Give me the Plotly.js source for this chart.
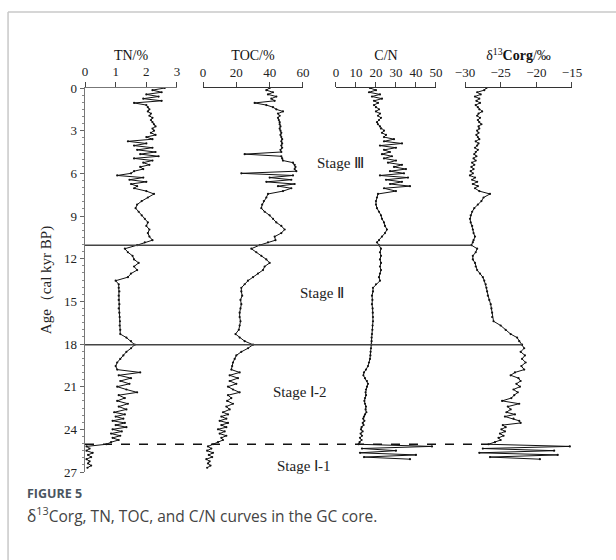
<!DOCTYPE html>
<html><head><meta charset="utf-8">
<script src="https://cdn.plot.ly/plotly-3.0.1.min.js"></script>
<style>html,body{margin:0;padding:0;background:#fff}#chart{width:616px;height:560px}</style>
</head><body><div id="chart"></div>
<script>
const age = [0,0.15,0.3,0.45,0.6,0.75,0.9,1.05,1.2,1.35,1.5,1.65,1.8,1.95,2.1,2.25,2.4,2.55,2.7,2.85,3.0,3.15,3.3,3.45,3.6,3.75,3.9,4.05,4.2,4.35,4.5,4.65,4.8,4.95,5.1,5.25,5.4,5.55,5.7,5.85,6.0,6.15,6.3,6.45,6.6,6.75,6.9,7.05,
 7.25,7.45,7.7,7.95,8.2,8.45,8.7,8.95,9.2,9.45,9.7,9.95,10.2,10.45,10.7,10.85,11.05,
 11.3,11.55,11.8,12.05,12.3,12.55,12.8,13.05,13.3,13.55,13.8,14.05,14.3,14.6,14.9,15.2,15.5,15.8,16.1,16.4,16.7,17.0,17.3,17.55,17.8,18.05,
 18.3,18.55,18.8,19.05,19.3,19.55,19.8,20.0,20.2,20.4,20.6,20.8,21.0,21.2,21.4,21.6,21.8,22.0,22.2,22.4,22.6,22.8,22.95,23.1,23.25,23.4,23.55,23.7,23.85,24.0,24.15,24.3,24.45,24.6,24.75,24.9,25.05,
 25.2,25.35,25.5,25.65,25.8,25.95,26.1,26.25,26.4,26.55,26.7];
const tn = [2.6,2.2,2.5,2.0,2.4,1.9,2.5,1.6,2.0,2.05,2.1,2.05,2.15,2.1,2.2,2.15,2.2,2.25,2.3,2.2,2.25,2.15,2.3,2.0,2.2,1.4,2.0,1.6,2.2,1.7,2.3,1.8,2.4,1.6,2.2,1.9,2.1,1.8,1.9,1.6,1.5,1.05,1.9,1.45,2.0,1.5,1.7,1.6,
 2.0,2.25,2.05,1.85,1.7,1.65,1.75,1.85,1.95,2.05,2.0,2.1,2.05,2.1,2.2,1.95,1.7,
 1.3,1.4,1.55,1.6,1.75,1.6,1.7,1.5,1.4,1.0,1.1,1.1,1.12,1.1,1.1,1.12,1.1,1.12,1.13,1.14,1.13,1.15,1.15,1.35,1.5,1.62,
 1.5,1.35,1.25,1.15,1.05,1.0,1.05,1.8,1.1,1.5,1.15,1.45,1.05,1.35,1.7,1.1,1.3,1.05,1.4,1.1,1.35,0.95,1.3,1.0,1.25,0.9,1.3,1.0,1.35,0.9,1.2,0.85,1.15,0.9,1.1,0.85,0.7,
 0.05,0.15,0.05,0.25,0.1,0.2,0.05,0.15,0.1,0.2,0.08];
const toc = [40,38,42,39,44,41,43,31,38,42,44,48,45,46,45,45.5,46,46,46.5,46,46.5,47,46.5,47,47.5,47,47.5,47,47.5,46.5,47,25,47,47.5,48,54,55,55.5,55,56,23,54,40,53,38,55,45,53,
 48,39,38,36.5,35.5,35,37,40,42,44,47,49,47,43,43.5,39,34,
 29,32,35,38,40,37,36,33,30,27,25,23,23,23.5,22.5,23,22.5,22,22,22.5,22,21.5,19.5,22,25,30,
 27,23,20,19,18,17.5,17,22,16,21,16,20,15,18,22,15,17,14.5,18,14,16,12,15,11,14,10,15,11,14,9,13,10,14,11,12,9,6,
 3,5,2.5,6,3.5,5.5,2,4,3,4.5,2.5];
const cn = [17,20,16.5,22,18,23,19,21,19,20,21.5,20,22,21,22.5,21.5,20.5,21,22,22.5,24,23,25,24,29,24,33,22,30,24,27,23,28,24,30,26,33,29,35,27,34,22,36,25,33,27,37,24,
 30,21,20.5,20,20,20.5,21.5,22.5,23,24,24.5,25.5,24.5,23,21.5,20.5,21.5,
 22.5,22,22.5,22,22.5,22,22.5,22,21.5,22,20,18.5,18.5,18,18.2,18,18.3,18.4,18.5,18.5,18.3,18.2,18,17.8,17.8,17.7,
 17.5,17.3,17.2,17,16.5,16,15,14,13.7,14.5,15.5,16,15.5,15,14.8,15,14.5,14.2,14.5,15,14.8,15.2,14.5,14,13.6,14.2,13.4,13.8,12.8,12.5,13.3,12.3,13,12,12.8,11.8,11.3,
 48,13,30,12,40,14,37,null,null,null,null];
const d13c = [-27.0,-27.3,-28.3,-27.8,-28.6,-28.0,-28.4,-27.9,-28.5,-28.2,-28.0,-27.6,-28.1,-28.3,-27.9,-28.2,-28.0,-27.7,-28.1,-28.0,-28.3,-28.1,-28.4,-28.2,-28.0,-28.5,-28.1,-28.3,-28.6,-28.2,-28.5,-28.7,-28.4,-28.8,-28.5,-29.0,-28.7,-29.1,-28.8,-29.2,-28.9,-29.3,-28.6,-29.0,-28.3,-28.9,-28.2,-28.6,
 -28.0,-26.5,-27.4,-27.7,-28.2,-28.7,-29.0,-29.2,-29.3,-29.2,-29.0,-28.9,-28.8,-28.6,-28.8,-28.9,-29.1,
 -28.3,-28.5,-28.9,-28.9,-28.6,-28.5,-28.3,-27.9,-27.5,-27.3,-27.1,-27.0,-26.9,-26.8,-26.6,-26.4,-26.3,-26.2,-26.2,-26.0,-25.0,-24.3,-23.6,-22.7,-22.4,-22.0,
 -21.7,-22.2,-21.6,-22.0,-21.5,-22.1,-21.7,-23.0,-23.6,-22.5,-22.2,-22.8,-22.3,-23.2,-22.6,-23.1,-23.5,-24.8,-22.4,-24.0,-23.6,-24.2,-23.0,-24.4,-23.2,-22.4,-22.2,-24.7,-24.3,-24.9,-24.4,-25.1,-24.6,-25.3,-25.0,-25.8,-26.7,
 -15.3,-27.5,-17.5,-28.0,-17.0,-26.5,-19.5,null,null,null,null];

const boundaries = [11.05, 18.05, 25.05];
const boundaryDash = ['solid','solid','dash'];
const stageLabels = ['Stage Ⅲ','Stage Ⅱ','Stage Ⅰ-2','Stage Ⅰ-1'];
const titles = ['TN/%','TOC/%','C/N','δ<sup>13</sup><b>Corg</b>/‰'];
const ranges = [[0,3],[0,60],[0,50],[-30,-15]];
const dticks = [1,20,10,5];
const domains = [[0,0.1889],[0.2423,0.4476],[0.5154,0.7207],[0.7803,1]];

const serif = 'Liberation Serif, Times New Roman, serif';
const series = [tn, toc, cn, d13c];
const traces = series.map((s,i)=>({
  x: s, y: age, xaxis: i===0?'x':'x'+(i+1), yaxis:'y',
  type:'scatter', mode:'lines+markers', connectgaps:false,
  line:{color:'#111', width:1}, marker:{color:'#111', size:2.2},
  hoverinfo:'skip', showlegend:false, cliponaxis:false
}));

const layout = {
  width:616, height:560, margin:{l:85, r:44, t:88, b:88},
  paper_bgcolor:'#fff', plot_bgcolor:'rgba(0,0,0,0)',
  font:{family:serif, size:13, color:'#222'},
  showlegend:false,
  yaxis:{range:[27,0], dtick:3, tick0:0, ticks:'outside', ticklen:4, tickcolor:'#666',
    showline:true, linecolor:'#777', linewidth:1.5, showgrid:false, zeroline:false,
    anchor:'x', minor:{dtick:0.5, ticks:'outside', ticklen:2, tickcolor:'#888'},
    tickfont:{family:serif, size:13, color:'#222'},
    title:{text:'Age（cal kyr BP)', font:{family:serif, size:15, color:'#222'}, standoff:8}},
  shapes:[], annotations:[]
};
for (let i=0;i<4;i++){
  const key = i===0?'xaxis':'xaxis'+(i+1);
  layout[key] = {domain:domains[i], range:ranges[i], dtick:dticks[i], tick0:ranges[i][0],
    side:'top', anchor:'y', showline:true, linecolor:i===0?'#777':'#333', linewidth:i===0?1.5:1,
    ticks:'outside', ticklen:5, tickcolor:'#444', showgrid:false, zeroline:false,
    tickfont:{family:serif, size:13, color:'#222'},
    title:{text:titles[i], font:{family:serif, size:14, color:'#111'}, standoff:0}};
}
function interp(xs, ys, a){
  for (let k=0;k<xs.length-1;k++){
    if (a>=xs[k] && a<=xs[k+1]){ const t=(a-xs[k])/(xs[k+1]-xs[k]); return ys[k]+t*(ys[k+1]-ys[k]); }
  }
  return ys[ys.length-1];
}
const dd = domains[3], rr = ranges[3];
boundaries.forEach((b,i)=>{
  const v = interp(age, d13c, b);
  const px = dd[0] + (v-rr[0])/(rr[1]-rr[0])*(dd[1]-dd[0]);
  layout.shapes.push({type:'line', xref:'paper', yref:'y', x0:0, x1:px, y0:b, y1:b,
    line:{color: i===2?'#111':'#444', width: i===2?1.3:1.5, dash:boundaryDash[i]}});
});
layout.shapes.push({type:'line', xref:'paper', yref:'paper', x0:-0.158, x1:1.1, y0:1.198, y1:1.198, line:{color:'#c8c8c8', width:1.5}});
layout.shapes.push({type:'line', xref:'paper', yref:'paper', x0:-0.158, x1:-0.158, y0:1.198, y1:-0.25, line:{color:'#c8c8c8', width:1.5}});
const stagePos = [[0.524,5.3],[0.487,14.4],[0.441,21.4],[0.45,26.6]];
stageLabels.forEach((t,i)=>{
  layout.annotations.push({text:t, xref:'paper', yref:'y', x:stagePos[i][0], y:stagePos[i][1],
    showarrow:false, font:{family:serif, size:15, color:'#222'}, xanchor:'center', yanchor:'middle'});
});
layout.annotations.push({text:'<b>FIGURE 5</b>', xref:'paper', yref:'paper', x:-0.123, y:-0.057,
  xanchor:'left', yanchor:'middle', showarrow:false, font:{family:'Open Sans, Noto Sans, sans-serif', size:12.5, color:'#4a5560'}});
layout.annotations.push({text:'δ<sup>13</sup>Corg, TN, TOC, and C/N curves in the GC core.', xref:'paper', yref:'paper', x:-0.123, y:-0.112,
  xanchor:'left', yanchor:'middle', showarrow:false, font:{family:'Open Sans, Noto Sans, sans-serif', size:15.5, color:'#444'}});

Plotly.newPlot('chart', traces, layout, {staticPlot:true, displayModeBar:false});
</script></body></html>
